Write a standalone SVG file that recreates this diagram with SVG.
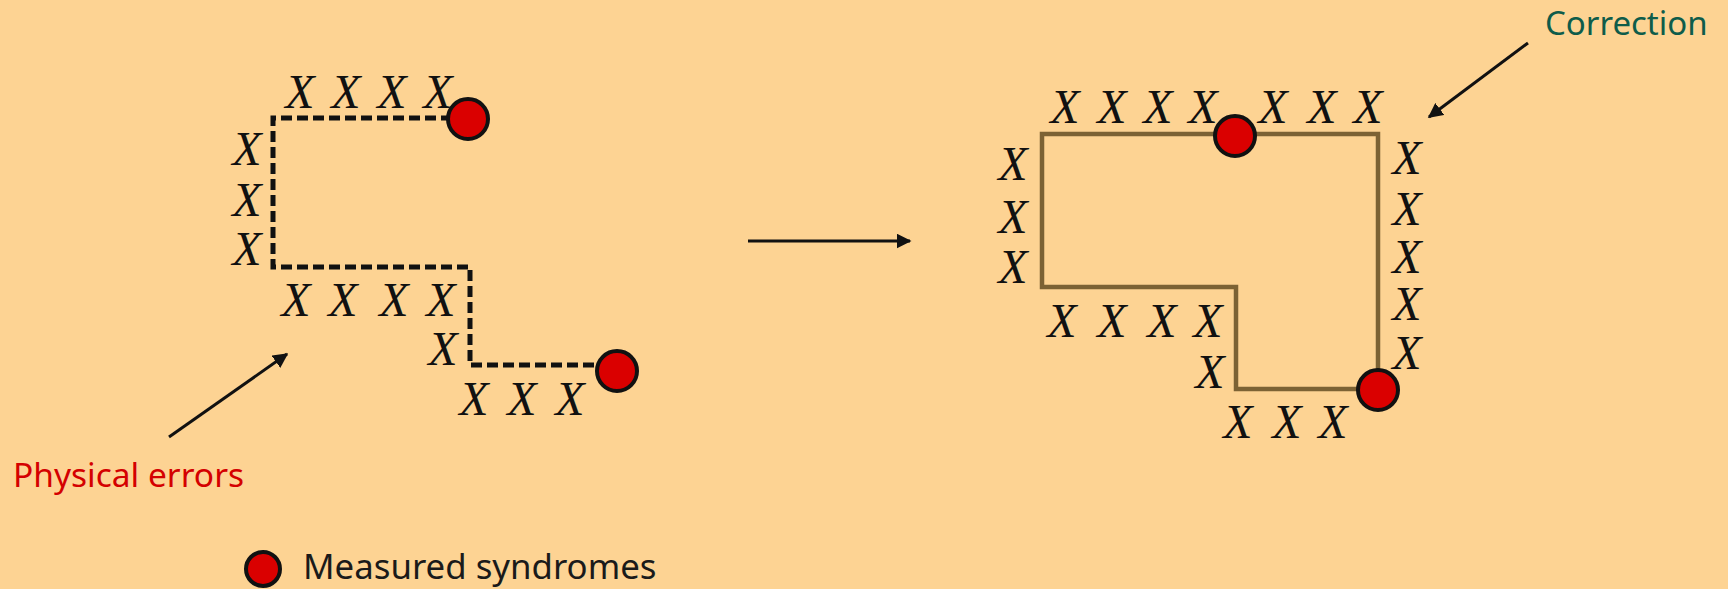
<svg xmlns="http://www.w3.org/2000/svg" width="1728" height="589" viewBox="0 0 1728 589">
<defs>
<style>
.x{font-family:"Liberation Serif","Times New Roman",serif;font-style:italic;font-size:48px;fill:#111;text-anchor:middle}
.syn{fill:#DA0000;stroke:#111;stroke-width:4}
.err{fill:none;stroke:#111;stroke-width:5;stroke-dasharray:11 5}
.cor{fill:none;stroke:#7C6234;stroke-width:4.5}
.arr{fill:none;stroke:#111;stroke-width:3}
.lbl{font-family:"Noto Sans","Open Sans",sans-serif}
</style>
<marker id="ah" viewBox="0 0 10 10" refX="9" refY="5" markerWidth="5" markerHeight="5" orient="auto-start-reverse" markerUnits="strokeWidth">
<path d="M0,0 L10,5 L0,10 Z" fill="#111"/>
</marker>
</defs>
<rect width="1728" height="589" fill="#FDD393"/>
<g id="connectors">
<path class="arr" d="M748,241 L910,241" marker-end="url(#ah)"/>
<path class="arr" d="M169,437 L287,354" marker-end="url(#ah)"/>
<path class="arr" d="M1528,43 L1429,117" marker-end="url(#ah)"/>
</g>
<g id="physical-errors">
<path class="err" d="M468,118 L273,118 L273,267 L470,267 L470,365 L617,365"/>
<text class="x" x="300 346 392 438" y="108">XXXX</text>
<text class="x" x="247" y="165">X</text>
<text class="x" x="247" y="216">X</text>
<text class="x" x="247" y="265">X</text>
<text class="x" x="296 343 394 441" y="316">XXXX</text>
<text class="x" x="443" y="365">X</text>
<text class="x" x="474 522 570" y="415">XXX</text>
<circle class="syn" cx="468" cy="119" r="20"/>
<circle class="syn" cx="617" cy="371" r="20"/>
</g>
<g id="correction">
<path class="cor" d="M1042,134 L1378,134 L1378,389 L1236,389 L1236,287 L1042,287 Z"/>
<text class="x" x="1065 1112 1158 1203" y="123">XXXX</text>
<text class="x" x="1273 1322 1368" y="123">XXX</text>
<text class="x" x="1013" y="180">X</text>
<text class="x" x="1013" y="233">X</text>
<text class="x" x="1013" y="283">X</text>
<text class="x" x="1407" y="174">X</text>
<text class="x" x="1407" y="225">X</text>
<text class="x" x="1407" y="273">X</text>
<text class="x" x="1407" y="320">X</text>
<text class="x" x="1407" y="369">X</text>
<text class="x" x="1062 1112 1162 1208" y="337">XXXX</text>
<text class="x" x="1210" y="388">X</text>
<text class="x" x="1238 1287 1333" y="438">XXX</text>
<circle class="syn" cx="1235" cy="136" r="20"/>
<circle class="syn" cx="1378" cy="390" r="20"/>
</g>
<g id="label-physical">
<text class="lbl" x="13" y="487" font-size="33.5" fill="#D40000">Physical errors</text>
</g>
<g id="label-correction">
<text class="lbl" x="1545" y="35" font-size="33" fill="#0E5C4A">Correction</text>
</g>
<g id="legend">
<circle class="syn" cx="263" cy="569" r="17"/>
<text class="lbl" x="303" y="579" font-size="34.8" fill="#1A1A1A">Measured syndromes</text>
</g>
</svg>
